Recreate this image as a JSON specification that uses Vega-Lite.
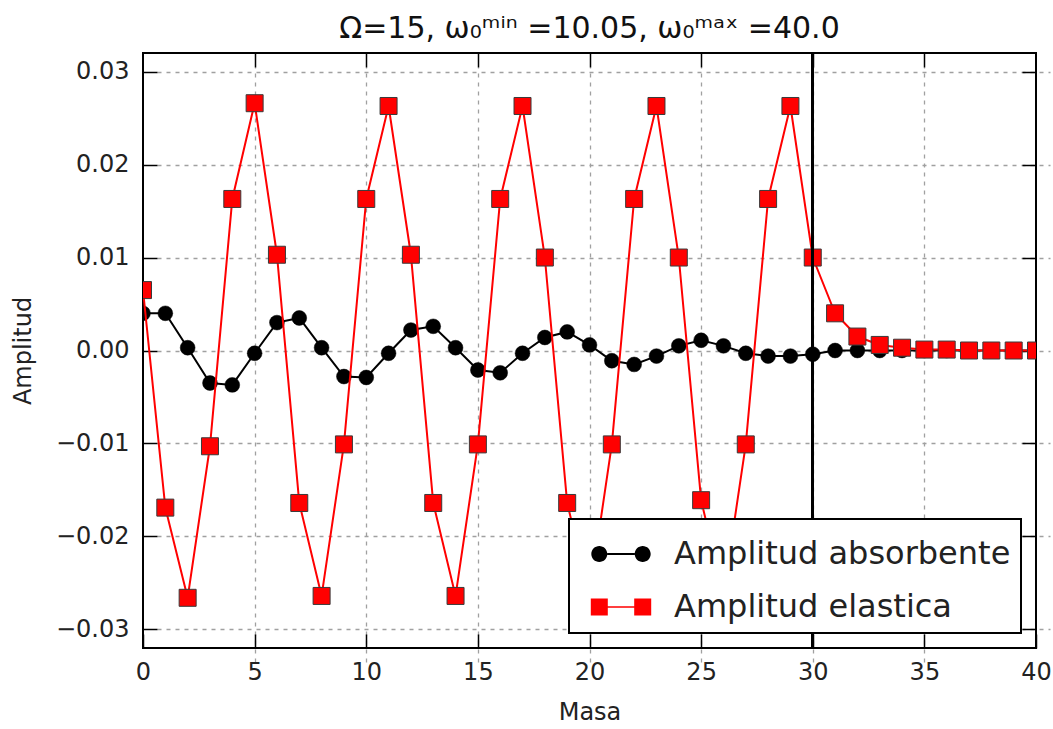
{
  "$schema": "https://vega.github.io/schema/vega-lite/v6.json",
  "width": 893,
  "height": 595,
  "autosize": {"type": "none"},
  "padding": {"left": 143, "top": 53, "right": 17, "bottom": 81},
  "background": "white",
  "title": {"text": "Ω=15, ω₀ᵐⁱⁿ =10.05, ω₀ᵐᵃˣ =40.0", "fontSize": 30, "font": "DejaVu Sans", "fontWeight": "normal", "color": "#111", "offset": 16, "baseline": "alphabetic", "dy": 32},
  "resolve": {"axis": {"x": "independent", "y": "independent"}},
  "config": {
    "view": {"stroke": "black", "strokeWidth": 2},
    "axis": {
      "domain": false,
      "gridDash": [4, 5],
      "gridColor": "#a0a0a0",
      "gridWidth": 1.3,
      "tickColor": "black",
      "tickWidth": 1.5,
      "tickSize": 14,
      "offset": -14,
      "labelFont": "DejaVu Sans",
      "labelFontSize": 24,
      "labelColor": "#222",
      "labelFlush": false,
      "labelOverlap": false,
      "titleFont": "DejaVu Sans",
      "titleFontSize": 24,
      "titleFontWeight": "normal",
      "titleColor": "#222"
    },
    "legend": {
      "orient": "bottom-right",
      "offset": 15,
      "fillColor": "white",
      "strokeColor": "black",
      "strokeWidth": 2,
      "cornerRadius": 0,
      "padding": 10,
      "rowPadding": 12,
      "symbolSize": 2500,
      "symbolStrokeWidth": 0,
      "symbolOffset": 17,
      "labelOffset": 28,
      "labelFont": "DejaVu Sans",
      "labelFontSize": 32,
      "labelColor": "#222",
      "labelLimit": 600
    }
  },
  "data": {
    "values": [
      {"masa": 0, "serie": "Amplitud absorbente", "amp": 0.0040},
      {"masa": 1, "serie": "Amplitud absorbente", "amp": 0.0040},
      {"masa": 2, "serie": "Amplitud absorbente", "amp": 0.0003},
      {"masa": 3, "serie": "Amplitud absorbente", "amp": -0.0035},
      {"masa": 4, "serie": "Amplitud absorbente", "amp": -0.0037},
      {"masa": 5, "serie": "Amplitud absorbente", "amp": -0.0003},
      {"masa": 6, "serie": "Amplitud absorbente", "amp": 0.0030},
      {"masa": 7, "serie": "Amplitud absorbente", "amp": 0.0035},
      {"masa": 8, "serie": "Amplitud absorbente", "amp": 0.0003},
      {"masa": 9, "serie": "Amplitud absorbente", "amp": -0.0028},
      {"masa": 10, "serie": "Amplitud absorbente", "amp": -0.0029},
      {"masa": 11, "serie": "Amplitud absorbente", "amp": -0.0003},
      {"masa": 12, "serie": "Amplitud absorbente", "amp": 0.0022},
      {"masa": 13, "serie": "Amplitud absorbente", "amp": 0.0026},
      {"masa": 14, "serie": "Amplitud absorbente", "amp": 0.0003},
      {"masa": 15, "serie": "Amplitud absorbente", "amp": -0.0021},
      {"masa": 16, "serie": "Amplitud absorbente", "amp": -0.0024},
      {"masa": 17, "serie": "Amplitud absorbente", "amp": -0.0003},
      {"masa": 18, "serie": "Amplitud absorbente", "amp": 0.0014},
      {"masa": 19, "serie": "Amplitud absorbente", "amp": 0.0020},
      {"masa": 20, "serie": "Amplitud absorbente", "amp": 0.0006},
      {"masa": 21, "serie": "Amplitud absorbente", "amp": -0.0011},
      {"masa": 22, "serie": "Amplitud absorbente", "amp": -0.0015},
      {"masa": 23, "serie": "Amplitud absorbente", "amp": -0.0006},
      {"masa": 24, "serie": "Amplitud absorbente", "amp": 0.0005},
      {"masa": 25, "serie": "Amplitud absorbente", "amp": 0.0011},
      {"masa": 26, "serie": "Amplitud absorbente", "amp": 0.0005},
      {"masa": 27, "serie": "Amplitud absorbente", "amp": -0.0003},
      {"masa": 28, "serie": "Amplitud absorbente", "amp": -0.0006},
      {"masa": 29, "serie": "Amplitud absorbente", "amp": -0.0006},
      {"masa": 30, "serie": "Amplitud absorbente", "amp": -0.0004},
      {"masa": 31, "serie": "Amplitud absorbente", "amp": 0.0000},
      {"masa": 32, "serie": "Amplitud absorbente", "amp": 0.0000},
      {"masa": 33, "serie": "Amplitud absorbente", "amp": 0.0000},
      {"masa": 34, "serie": "Amplitud absorbente", "amp": 0.0000},
      {"masa": 35, "serie": "Amplitud absorbente", "amp": 0.0000},
      {"masa": 36, "serie": "Amplitud absorbente", "amp": 0.0000},
      {"masa": 37, "serie": "Amplitud absorbente", "amp": 0.0000},
      {"masa": 38, "serie": "Amplitud absorbente", "amp": 0.0000},
      {"masa": 39, "serie": "Amplitud absorbente", "amp": 0.0000},
      {"masa": 40, "serie": "Amplitud absorbente", "amp": 0.0000},
      {"masa": 0, "serie": "Amplitud elastica", "amp": 0.0065},
      {"masa": 1, "serie": "Amplitud elastica", "amp": -0.0169},
      {"masa": 2, "serie": "Amplitud elastica", "amp": -0.0266},
      {"masa": 3, "serie": "Amplitud elastica", "amp": -0.0103},
      {"masa": 4, "serie": "Amplitud elastica", "amp": 0.0163},
      {"masa": 5, "serie": "Amplitud elastica", "amp": 0.0266},
      {"masa": 6, "serie": "Amplitud elastica", "amp": 0.0103},
      {"masa": 7, "serie": "Amplitud elastica", "amp": -0.0164},
      {"masa": 8, "serie": "Amplitud elastica", "amp": -0.0264},
      {"masa": 9, "serie": "Amplitud elastica", "amp": -0.0101},
      {"masa": 10, "serie": "Amplitud elastica", "amp": 0.0163},
      {"masa": 11, "serie": "Amplitud elastica", "amp": 0.0263},
      {"masa": 12, "serie": "Amplitud elastica", "amp": 0.0103},
      {"masa": 13, "serie": "Amplitud elastica", "amp": -0.0164},
      {"masa": 14, "serie": "Amplitud elastica", "amp": -0.0264},
      {"masa": 15, "serie": "Amplitud elastica", "amp": -0.0101},
      {"masa": 16, "serie": "Amplitud elastica", "amp": 0.0163},
      {"masa": 17, "serie": "Amplitud elastica", "amp": 0.0263},
      {"masa": 18, "serie": "Amplitud elastica", "amp": 0.0100},
      {"masa": 19, "serie": "Amplitud elastica", "amp": -0.0164},
      {"masa": 20, "serie": "Amplitud elastica", "amp": -0.0264},
      {"masa": 21, "serie": "Amplitud elastica", "amp": -0.0101},
      {"masa": 22, "serie": "Amplitud elastica", "amp": 0.0163},
      {"masa": 23, "serie": "Amplitud elastica", "amp": 0.0263},
      {"masa": 24, "serie": "Amplitud elastica", "amp": 0.0100},
      {"masa": 25, "serie": "Amplitud elastica", "amp": -0.0161},
      {"masa": 26, "serie": "Amplitud elastica", "amp": -0.0263},
      {"masa": 27, "serie": "Amplitud elastica", "amp": -0.0101},
      {"masa": 28, "serie": "Amplitud elastica", "amp": 0.0163},
      {"masa": 29, "serie": "Amplitud elastica", "amp": 0.0263},
      {"masa": 30, "serie": "Amplitud elastica", "amp": 0.0100},
      {"masa": 31, "serie": "Amplitud elastica", "amp": 0.0040},
      {"masa": 32, "serie": "Amplitud elastica", "amp": 0.0015},
      {"masa": 33, "serie": "Amplitud elastica", "amp": 0.0006},
      {"masa": 34, "serie": "Amplitud elastica", "amp": 0.0003},
      {"masa": 35, "serie": "Amplitud elastica", "amp": 0.0001},
      {"masa": 36, "serie": "Amplitud elastica", "amp": 0.0001},
      {"masa": 37, "serie": "Amplitud elastica", "amp": 0.0000},
      {"masa": 38, "serie": "Amplitud elastica", "amp": 0.0000},
      {"masa": 39, "serie": "Amplitud elastica", "amp": 0.0000},
      {"masa": 40, "serie": "Amplitud elastica", "amp": 0.0000}
    ]
  },
  "encoding": {
    "x": {"field": "masa", "type": "quantitative", "scale": {"domain": [0, 40], "nice": false}, "axis": null},
    "y": {"field": "amp", "type": "quantitative", "scale": {"domain": [-0.032, 0.032], "nice": false, "zero": false}, "axis": null}
  },
  "layer": [
    {
      "transform": [{"filter": "datum.serie === 'Amplitud absorbente'"}],
      "mark": {"type": "line", "color": "black", "strokeWidth": 2, "clip": true},
      "encoding": {
        "x": {
          "field": "masa", "type": "quantitative",
          "axis": {"orient": "bottom", "title": "Masa", "grid": false, "values": [0, 5, 10, 15, 20, 25, 30, 35, 40], "labelPadding": 12, "titlePadding": 16}
        },
        "y": {
          "field": "amp", "type": "quantitative",
          "axis": {"orient": "left", "title": "Amplitud", "grid": true, "format": ".2f", "values": [-0.03, -0.02, -0.01, 0, 0.01, 0.02, 0.03], "labelPadding": 14, "titlePadding": 20}
        }
      }
    },
    {
      "transform": [{"filter": "datum.serie === 'Amplitud absorbente'"}],
      "mark": {"type": "point", "shape": "circle", "filled": true, "fill": "black", "stroke": "black", "strokeWidth": 0.5, "size": 220, "opacity": 1, "clip": true},
      "encoding": {
        "x": {
          "field": "masa", "type": "quantitative",
          "axis": {"orient": "top", "title": null, "labels": false, "grid": true, "values": [5, 10, 15, 20, 25, 30, 35]}
        },
        "y": {
          "field": "amp", "type": "quantitative",
          "axis": {"orient": "right", "title": null, "labels": false, "grid": false, "values": [-0.03, -0.02, -0.01, 0, 0.01, 0.02, 0.03]}
        }
      }
    },
    {
      "transform": [{"filter": "datum.serie === 'Amplitud elastica'"}],
      "mark": {"type": "line", "color": "red", "strokeWidth": 2, "clip": true}
    },
    {
      "transform": [{"filter": "datum.serie === 'Amplitud elastica'"}],
      "mark": {"type": "point", "shape": "square", "filled": false, "fill": "red", "stroke": "#3a3a3a", "strokeWidth": 1, "size": 289, "opacity": 1, "fillOpacity": 1, "clip": true}
    },
    {
      "mark": {"type": "rule", "color": "black", "strokeWidth": 2},
      "encoding": {"x": {"datum": 30, "type": "quantitative", "axis": null}, "y": null}
    },
    {
      "transform": [{"filter": "datum.masa < -100"}],
      "mark": {"type": "point", "filled": true, "strokeWidth": 0, "opacity": 1},
      "encoding": {
        "color": {
          "field": "serie", "type": "nominal",
          "scale": {"domain": ["Amplitud absorbente", "Amplitud elastica"], "range": ["black", "red"]},
          "legend": {"title": null}
        },
        "shape": {
          "field": "serie", "type": "nominal",
          "scale": {"domain": ["Amplitud absorbente", "Amplitud elastica"], "range": [
            "M-1.188,0A0.32,0.32,0,1,0,-0.548,0A0.32,0.32,0,1,0,-1.188,0Z M0.548,0A0.32,0.32,0,1,0,1.188,0A0.32,0.32,0,1,0,0.548,0Z M-0.548,-0.04L0.548,-0.04L0.548,0.04L-0.548,0.04Z",
            "M-1.208,-0.34L-0.528,-0.34L-0.528,0.34L-1.208,0.34Z M0.528,-0.34L1.208,-0.34L1.208,0.34L0.528,0.34Z M-0.528,-0.03L0.528,-0.03L0.528,0.03L-0.528,0.03Z"
          ]},
          "legend": {"title": null}
        }
      }
    }
  ]
}
